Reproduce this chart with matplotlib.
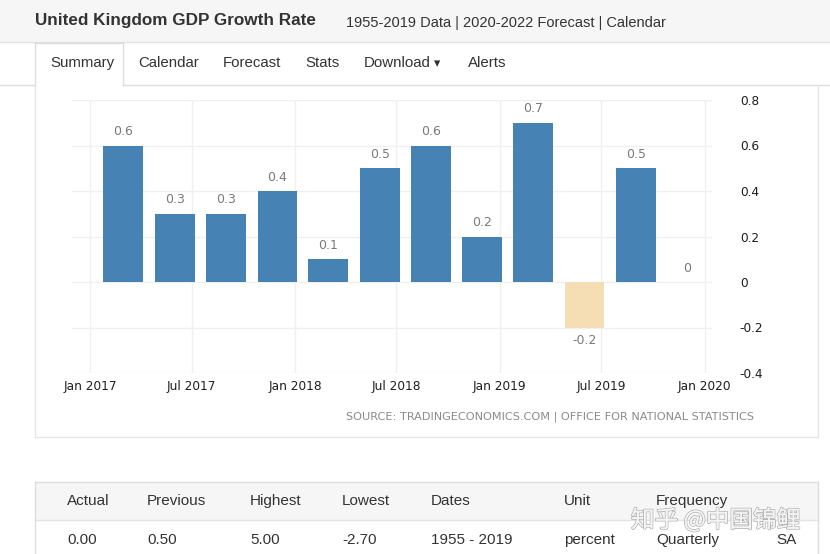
import matplotlib
matplotlib.use("Agg")
import matplotlib.pyplot as plt
import matplotlib.dates as mdates
import matplotlib.patheffects as pe
from matplotlib.patches import Rectangle
from matplotlib.lines import Line2D
from datetime import date

# ---------------- data ----------------
quarters = ["2017Q1", "2017Q2", "2017Q3", "2017Q4",
            "2018Q1", "2018Q2", "2018Q3", "2018Q4",
            "2019Q1", "2019Q2", "2019Q3", "2019Q4"]
growth = [0.6, 0.3, 0.3, 0.4, 0.1, 0.5, 0.6, 0.2, 0.7, -0.2, 0.5, 0.0]
y_ticks = [0.8, 0.6, 0.4, 0.2, 0.0, -0.2, -0.4]
y_tick_labels = ["0.8", "0.6", "0.4", "0.2", "0", "-0.2", "-0.4"]

title = "United Kingdom GDP Growth Rate"
subtitle = "1955-2019 Data | 2020-2022 Forecast | Calendar"
tabs = ["Summary", "Calendar", "Forecast", "Stats", "Download", "Alerts"]
source = "SOURCE: TRADINGECONOMICS.COM | OFFICE FOR NATIONAL STATISTICS"
table_header = ["Actual", "Previous", "Highest", "Lowest", "Dates", "Unit", "Frequency", ""]
table_row = ["0.00", "0.50", "5.00", "-2.70", "1955 - 2019", "percent", "Quarterly", "SA"]
watermark = "知乎 @中国锦鲤"


def quarter_date(q):
    y = int(q[:4]); n = int(q[-1])
    return date(y, 3 * n, 1)


dates = [quarter_date(q) for q in quarters]

# ---------------- figure ----------------
W, H = 830, 554
fig = plt.figure(figsize=(W / 100, H / 100), dpi=100)
fig.patch.set_facecolor("white")


def fx(x):
    return x / W


def fy(y):
    return 1 - y / H


def rect(x0, y0, x1, y1, fc="none", ec="none", lw=1, z=0):
    fig.patches.append(Rectangle((fx(x0), fy(y1)), fx(x1) - fx(x0), fy(y0) - fy(y1),
                                 transform=fig.transFigure, facecolor=fc,
                                 edgecolor=ec, linewidth=lw, zorder=z))


def hline(x0, x1, y, c="#dddddd", lw=1, z=1):
    fig.lines.append(Line2D([fx(x0), fx(x1)], [fy(y), fy(y)], transform=fig.transFigure,
                            color=c, linewidth=lw, zorder=z))


def vline(x, y0, y1, c="#dddddd", lw=1, z=1):
    fig.lines.append(Line2D([fx(x), fx(x)], [fy(y0), fy(y1)], transform=fig.transFigure,
                            color=c, linewidth=lw, zorder=z))


web_font = "Liberation Sans"

# header band
rect(0, 0, 830, 42, fc="#f6f6f6")
hline(0, 830, 42, c="#e2e2e2")
fig.text(fx(35), fy(21), title, fontsize=12.3, fontweight="bold", color="#333333",
         family=web_font, va="center", ha="left")
fig.text(fx(346), fy(23), subtitle, fontsize=10.5, color="#333333",
         family=web_font, va="center", ha="left")

# tab bar
hline(0, 35, 85, c="#dddddd")
hline(123, 830, 85, c="#dddddd")
vline(35, 43, 85, c="#dddddd")
vline(123, 43, 85, c="#dddddd")
hline(35, 123, 43, c="#dddddd")
tab_x = [50, 138, 223, 305, 364, 468]
for t, x in zip(tabs, tab_x):
    fig.text(fx(x), fy(63), t, fontsize=10.8, color="#333333", family=web_font,
             va="center", ha="left")
fig.text(fx(434), fy(64), "▾", fontsize=9, color="#333333", family="DejaVu Sans",
         va="center", ha="left")

# chart box
vline(35, 85, 437, c="#e6e6e6")
vline(818, 85, 437, c="#e6e6e6")
hline(35, 818, 437, c="#e6e6e6")

# ---------------- chart ----------------
ax = fig.add_axes([fx(72), fy(373), fx(712) - fx(72), fy(100) - fy(373)])
ax.set_facecolor("white")
colors = ["#4682b4" if v >= 0 else "#f5deb3" for v in growth]
ax.bar(dates, growth, width=71, color=colors, zorder=3)
for d, v in zip(dates, growth):
    off = 10 if v >= 0 else -9
    ax.annotate(f"{v:g}", (d, v), xytext=(0, off), textcoords="offset points",
                ha="center", va="center", fontsize=9, color="#7a7a7a",
                family="DejaVu Sans")

ax.set_ylim(-0.4, 0.8)
ax.set_xlim(date(2016, 11, 30), date(2020, 1, 14))
ax.set_yticks(y_ticks)
ax.set_yticklabels(y_tick_labels)
ax.yaxis.tick_right()
ax.xaxis.set_major_locator(mdates.MonthLocator(bymonth=[1, 7]))
ax.xaxis.set_major_formatter(mdates.DateFormatter("%b %Y"))
ax.tick_params(axis="both", length=0, labelsize=8.7, colors="#1e1e1e")
ax.tick_params(axis="y", pad=20)
ax.tick_params(axis="x", pad=5)
for lab in ax.get_xticklabels() + ax.get_yticklabels():
    lab.set_family("DejaVu Sans")
for lab in ax.get_yticklabels():
    lab.set_ha("left")
ax.grid(True, color="#f0f0f0", linewidth=1, zorder=0)
for s in ax.spines.values():
    s.set_visible(False)

fig.text(fx(754), fy(417), source, fontsize=8.1, color="#8a8a8a",
         family="DejaVu Sans", ha="right", va="center")

# ---------------- table ----------------
rect(35, 482, 818, 520, fc="#f6f6f6", z=0)
hline(35, 818, 482, c="#dddddd")
hline(35, 818, 520, c="#e4e4e4")
vline(35, 482, 554, c="#dddddd")
vline(818, 482, 554, c="#dddddd")
col_x = [67, 147, 250, 342, 431, 564, 656, 776]
for h, r, x in zip(table_header, table_row, col_x):
    fig.text(fx(x), fy(501), h, fontsize=11, color="#333333", family=web_font,
             va="center", ha="left")
    fig.text(fx(x), fy(540), r, fontsize=11, color="#333333", family=web_font,
             va="center", ha="left")

wm = fig.text(fx(631), fy(520), watermark, fontsize=17, color="#f4f4f4",
              family=["Noto Sans CJK SC", "DejaVu Sans"], va="center", ha="left", zorder=5)
wm.set_path_effects([pe.withStroke(linewidth=1.2, foreground="#b0b0b0"), pe.Normal()])

fig.savefig("out.png", dpi=100, facecolor="white")
